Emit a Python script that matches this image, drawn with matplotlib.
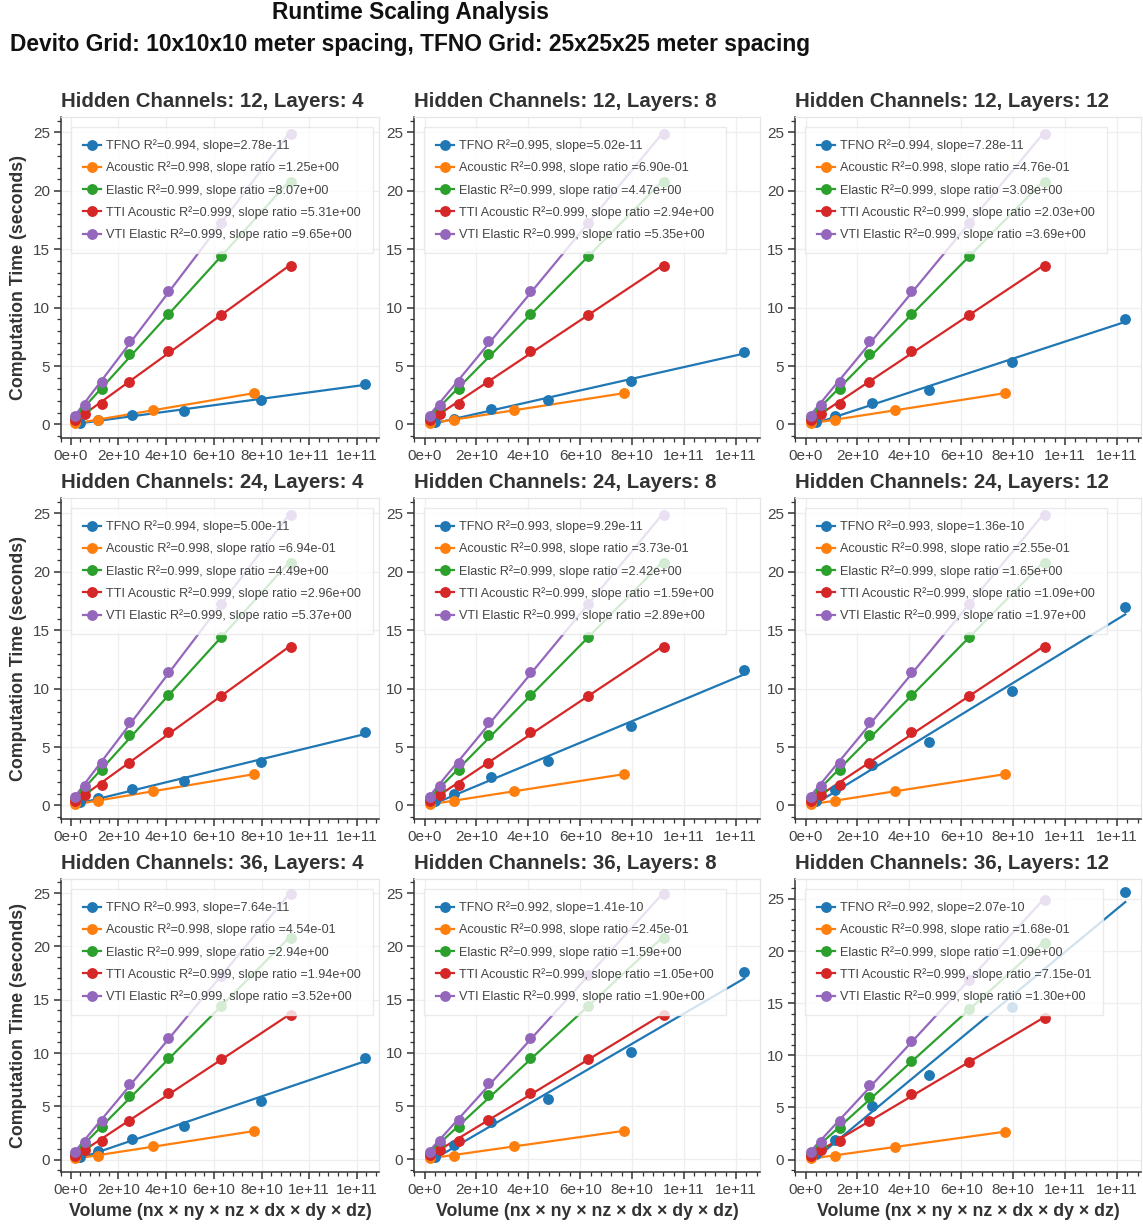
import numpy as np
import matplotlib
matplotlib.use("Agg")
import matplotlib.pyplot as plt
from matplotlib.ticker import FuncFormatter, MultipleLocator

plt.rcParams['font.family'] = ['Liberation Sans', 'DejaVu Sans']

# ---------------- data ----------------
hidden_channels = [12, 24, 36]
layers = [4, 8, 12]

tfno_x = [0.39e10, 1.15e10, 2.57e10, 4.76e10, 7.96e10, 12.32e10]
tfno_y = {
    (12, 4): [0.14, 0.34, 0.77, 1.19, 2.07, 3.49],
    (12, 8): [0.20, 0.48, 1.31, 2.10, 3.75, 6.22],
    (12, 12): [0.20, 0.74, 1.88, 2.95, 5.31, 9.06],
    (24, 4): [0.26, 0.65, 1.37, 2.13, 3.75, 6.29],
    (24, 8): [0.34, 0.94, 2.45, 3.78, 6.77, 11.60],
    (24, 12): [0.40, 1.31, 3.50, 5.43, 9.78, 16.95],
    (36, 4): [0.22, 0.84, 1.96, 3.14, 5.53, 9.53],
    (36, 8): [0.20, 1.37, 3.54, 5.65, 10.06, 17.60],
    (36, 12): [0.50, 1.90, 5.11, 8.13, 14.64, 25.63],
}

acoustic_x = [0.20e10, 1.15e10, 3.45e10, 7.67e10]
acoustic_y = [0.14, 0.34, 1.25, 2.67]
devito_x = [0.20e10, 0.58e10, 1.31e10, 2.43e10, 4.06e10, 6.29e10, 9.22e10]
elastic_y = [0.55, 1.35, 3.04, 6.00, 9.49, 14.40, 20.80]
tti_y = [0.37, 0.91, 1.76, 3.66, 6.25, 9.40, 13.58]
vti_y = [0.71, 1.70, 3.66, 7.13, 11.39, 17.27, 24.89]

# legend statistics (as printed in the reference)
tfno_r2 = {(12, 4): 0.994, (12, 8): 0.995, (12, 12): 0.994,
           (24, 4): 0.994, (24, 8): 0.993, (24, 12): 0.993,
           (36, 4): 0.993, (36, 8): 0.992, (36, 12): 0.992}
tfno_slope = {(12, 4): "2.78e-11", (12, 8): "5.02e-11", (12, 12): "7.28e-11",
              (24, 4): "5.00e-11", (24, 8): "9.29e-11", (24, 12): "1.36e-10",
              (36, 4): "7.64e-11", (36, 8): "1.41e-10", (36, 12): "2.07e-10"}
ratio_acoustic = {(12, 4): "1.25e+00", (12, 8): "6.90e-01", (12, 12): "4.76e-01",
                  (24, 4): "6.94e-01", (24, 8): "3.73e-01", (24, 12): "2.55e-01",
                  (36, 4): "4.54e-01", (36, 8): "2.45e-01", (36, 12): "1.68e-01"}
ratio_elastic = {(12, 4): "8.07e+00", (12, 8): "4.47e+00", (12, 12): "3.08e+00",
                 (24, 4): "4.49e+00", (24, 8): "2.42e+00", (24, 12): "1.65e+00",
                 (36, 4): "2.94e+00", (36, 8): "1.59e+00", (36, 12): "1.09e+00"}
ratio_tti = {(12, 4): "5.31e+00", (12, 8): "2.94e+00", (12, 12): "2.03e+00",
             (24, 4): "2.96e+00", (24, 8): "1.59e+00", (24, 12): "1.09e+00",
             (36, 4): "1.94e+00", (36, 8): "1.05e+00", (36, 12): "7.15e-01"}
ratio_vti = {(12, 4): "9.65e+00", (12, 8): "5.35e+00", (12, 12): "3.69e+00",
             (24, 4): "5.37e+00", (24, 8): "2.89e+00", (24, 12): "1.97e+00",
             (36, 4): "3.52e+00", (36, 8): "1.90e+00", (36, 12): "1.30e+00"}
r2_acoustic, r2_elastic, r2_tti, r2_vti = 0.998, 0.999, 0.999, 0.999

colors = ['#1f77b4', '#ff7f0e', '#2ca02c', '#d62728', '#9467bd']

# ---------------- figure ----------------
W, H = 1143, 1226
fig = plt.figure(figsize=(W / 100, H / 100), dpi=100)

col_px = [(61, 379), (414, 760), (795, 1141)]
row_px = [(117, 438), (498, 819), (879, 1172)]


def sci_fmt(v, pos):
    s = f"{v:.0e}"
    m, e = s.split('e')
    return f"{m}e{int(e):+d}"


def fit_line(ax, x, y, color, label):
    x = np.asarray(x)
    y = np.asarray(y)
    k, b = np.polyfit(x, y, 1)
    xs = np.array([x.min(), x.max()])
    ax.plot(xs, k * xs + b, '-', color=color, lw=1.6, zorder=2)
    ax.plot(x, y, 'o', color=color, ms=6.8, zorder=3)
    # legend proxy
    ax.plot([], [], '-o', color=color, lw=1.6, ms=6.8, label=label)


for i, hc in enumerate(hidden_channels):
    for j, ly in enumerate(layers):
        key = (hc, ly)
        l, r = col_px[j]
        t, btm = row_px[i]
        ax = fig.add_axes([l / W, 1 - btm / H, (r - l) / W, (btm - t) / H])

        fit_line(ax, tfno_x, tfno_y[key], colors[0],
                 f"TFNO R²={tfno_r2[key]:.3f}, slope={tfno_slope[key]}")
        fit_line(ax, acoustic_x, acoustic_y, colors[1],
                 f"Acoustic R²={r2_acoustic:.3f}, slope ratio ={ratio_acoustic[key]}")
        fit_line(ax, devito_x, elastic_y, colors[2],
                 f"Elastic R²={r2_elastic:.3f}, slope ratio ={ratio_elastic[key]}")
        fit_line(ax, devito_x, tti_y, colors[3],
                 f"TTI Acoustic R²={r2_tti:.3f}, slope ratio ={ratio_tti[key]}")
        fit_line(ax, devito_x, vti_y, colors[4],
                 f"VTI Elastic R²={r2_vti:.3f}, slope ratio ={ratio_vti[key]}")

        ax.set_title(f"Hidden Channels: {hc}, Layers: {ly}", loc='left',
                     fontsize=14.7, fontweight='bold', color='#333333', pad=7)
        ax.xaxis.set_major_locator(MultipleLocator(2e10))
        ax.xaxis.set_minor_locator(MultipleLocator(0.4e10))
        ax.yaxis.set_major_locator(MultipleLocator(5))
        ax.yaxis.set_minor_locator(MultipleLocator(1))
        ax.xaxis.set_major_formatter(FuncFormatter(sci_fmt))
        ax.tick_params(axis='both', which='major', labelsize=11, length=5,
                       width=1.1, color='#333333', labelcolor='#444444', pad=3)
        ax.tick_params(axis='both', which='minor', length=3, width=0.9,
                       color='#333333')
        ax.grid(True, which='major', color='#eeeeee', lw=0.9, zorder=0)
        ax.set_axisbelow(True)
        for side in ['left', 'bottom']:
            ax.spines[side].set_color('#333333')
            ax.spines[side].set_linewidth(1.1)
        for side in ['top', 'right']:
            ax.spines[side].set_color('#e6e6e6')
            ax.spines[side].set_linewidth(0.9)

        leg = ax.legend(loc='upper left', fontsize=9.1, framealpha=0.8,
                        edgecolor='#e6e6e6', fancybox=False, handlelength=1.4,
                        handletextpad=0.4, borderpad=0.95, borderaxespad=0.8,
                        labelspacing=0.75)
        for txt in leg.get_texts():
            txt.set_color('#444444')

        if j == 0:
            ax.set_ylabel("Computation Time (seconds)", fontsize=12.8,
                          fontweight='bold', color='#333333', labelpad=4)
        if i == 2:
            ax.set_xlabel("Volume (nx × ny × nz × dx × dy × dz)", fontsize=12.8,
                          fontweight='bold', color='#333333', labelpad=4)

fig.text(410 / W, 1 - 13 / H, "Runtime Scaling Analysis", ha='center', va='center',
         fontsize=16.4, fontweight='bold', color='#111111')
fig.text(410 / W, 1 - 45 / H,
         "Devito Grid: 10x10x10 meter spacing, TFNO Grid: 25x25x25 meter spacing",
         ha='center', va='center', fontsize=16.4, fontweight='bold',
         color='#111111')

fig.savefig("out.png", dpi=100)
